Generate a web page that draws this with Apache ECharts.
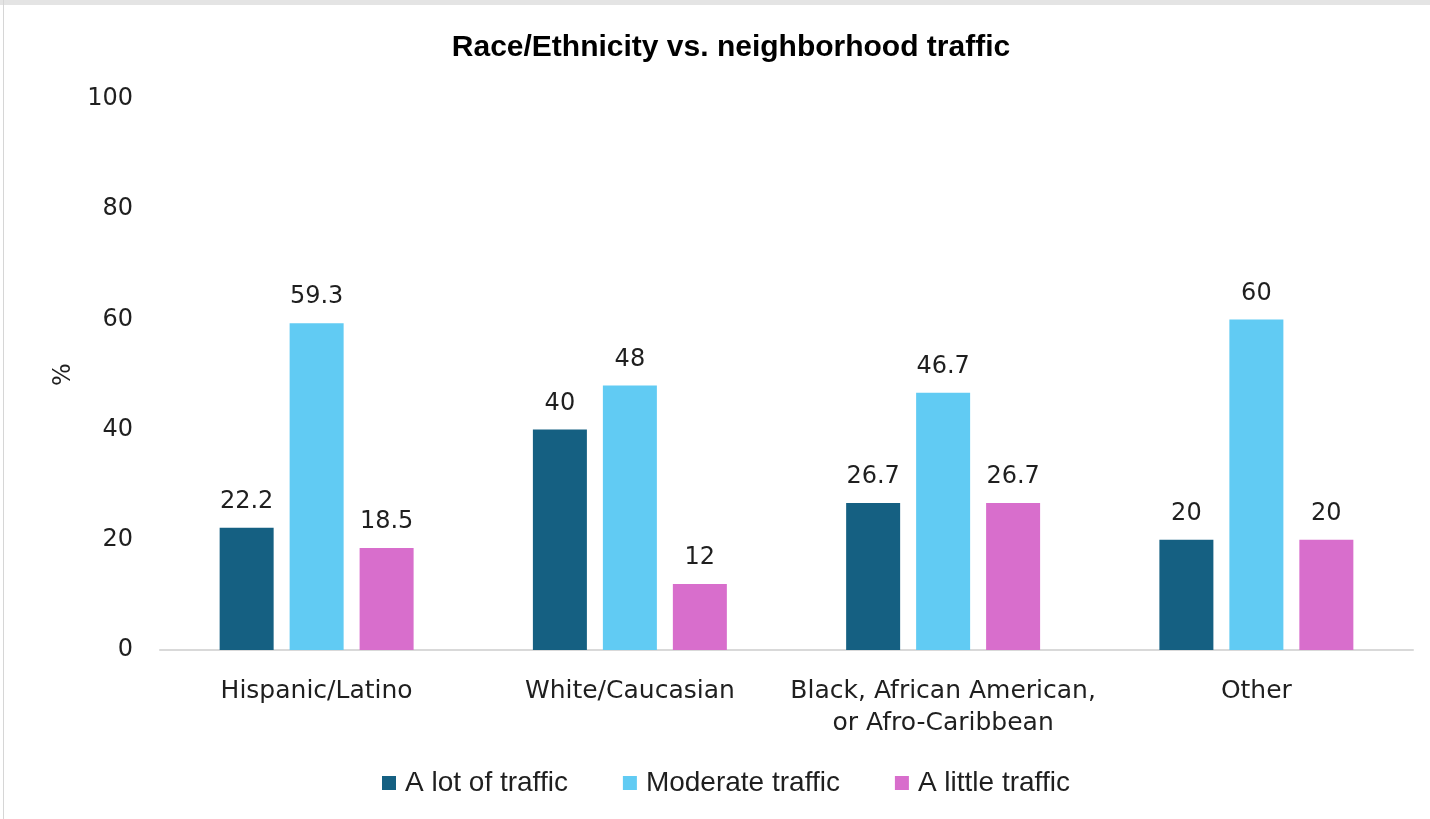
<!DOCTYPE html>
<html>
<head>
<meta charset="utf-8">
<script src="https://cdn.jsdelivr.net/npm/echarts@6/dist/echarts.min.js"></script>
<style>
  html, body { margin: 0; padding: 0; background: #fff; }
  #chart { width: 1430px; height: 819px; }
  .edge-top { position: absolute; left: 0; top: 0; width: 1430px; height: 5px; background: #e4e4e4; }
  .edge-left { position: absolute; left: 3px; top: 0; width: 1px; height: 819px; background: #d6d6d6; }
</style>
</head>
<body>
<div id="chart"></div>
<div class="edge-top"></div>
<div class="edge-left"></div>
<script>
// Chart data
const categories = [
  "Hispanic/Latino",
  "White/Caucasian",
  "Black, African American,\nor Afro-Caribbean",
  "Other",
];
const seriesNames = ["A lot of traffic", "Moderate traffic", "A little traffic"];
const aLotOfTraffic = [22.2, 40, 26.7, 20];
const moderateTraffic = [59.3, 48, 46.7, 60];
const aLittleTraffic = [18.5, 12, 26.7, 20];
const yTicks = [0, 20, 40, 60, 80, 100];

const colors = ["#156082", "#61CBF3", "#D86ECC"];
const textColor = "#1f1f1f";
const labelFont = "'DejaVu Sans', 'Liberation Sans', sans-serif";
const titleFont = "'Liberation Sans', sans-serif";

const myChart = echarts.init(document.getElementById("chart"));

function barSeries(name, values, color) {
  return {
    name: name,
    type: "bar",
    barWidth: 54,
    barGap: "29.6%",
    itemStyle: { color: color },
    label: {
      show: true,
      position: "top",
      distance: 14,
      color: textColor,
      fontSize: 24,
      fontFamily: labelFont,
    },
    data: values,
  };
}

const option = {
  backgroundColor: "#fff",
  animation: false,
  title: {
    text: "Race/Ethnicity vs. neighborhood traffic",
    left: 726,
    textAlign: "center",
    top: 28,
    textStyle: {
      fontFamily: titleFont,
      fontWeight: "bold",
      fontSize: 30,
      color: "#000",
    },
  },
  legend: {
    bottom: 17,
    left: 377,
    itemWidth: 14,
    itemHeight: 14,
    itemGap: 55,
    icon: "rect",
    textStyle: {
      fontFamily: titleFont,
      fontSize: 28,
      color: textColor,
      padding: [0, 0, 0, 4],
    },
    data: seriesNames,
  },
  grid: {
    left: 160,
    right: 17,
    top: 99,
    bottom: 169,
    containLabel: false,
  },
  xAxis: {
    type: "category",
    data: categories,
    axisLine: { lineStyle: { color: "#d9d9d9", width: 2 } },
    axisTick: { show: false },
    axisLabel: {
      interval: 0,
      color: textColor,
      fontSize: 25,
      fontFamily: labelFont,
      lineHeight: 32,
      margin: 25,
    },
  },
  yAxis: {
    type: "value",
    min: yTicks[0],
    max: yTicks[yTicks.length - 1],
    interval: 20,
    name: "%",
    nameLocation: "middle",
    nameGap: 84,
    nameTextStyle: {
      color: textColor,
      fontSize: 24,
      fontFamily: labelFont,
    },
    axisLine: { show: false },
    axisTick: { show: false },
    splitLine: { show: false },
    axisLabel: {
      color: textColor,
      fontSize: 24,
      fontFamily: labelFont,
      margin: 27,
    },
  },
  series: [
    barSeries(seriesNames[0], aLotOfTraffic, colors[0]),
    barSeries(seriesNames[1], moderateTraffic, colors[1]),
    barSeries(seriesNames[2], aLittleTraffic, colors[2]),
  ],
};

myChart.setOption(option);
</script>
</body>
</html>
